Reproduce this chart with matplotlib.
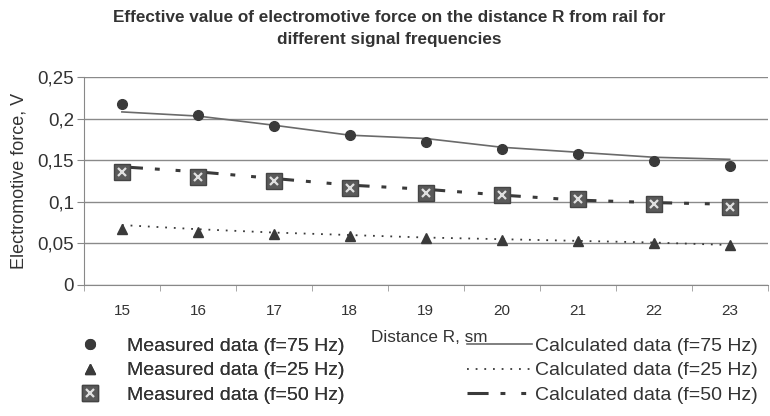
import numpy as np
import matplotlib.pyplot as plt
from matplotlib.ticker import FuncFormatter

distance = [15, 16, 17, 18, 19, 20, 21, 22, 23]

meas_75 = [0.2175, 0.204, 0.1915, 0.18, 0.1715, 0.163, 0.157, 0.149, 0.143]
calc_75 = [0.208, 0.203, 0.192, 0.180, 0.176, 0.1655, 0.1595, 0.1535, 0.151]

meas_25 = [0.067, 0.064, 0.061, 0.059, 0.056, 0.054, 0.053, 0.051, 0.048]
calc_25 = [0.072, 0.067, 0.063, 0.060, 0.057, 0.055, 0.053, 0.051, 0.048]

meas_50 = [0.136, 0.130, 0.125, 0.117, 0.111, 0.108, 0.103, 0.097, 0.094]
calc_50 = [0.142, 0.136, 0.128, 0.120, 0.115, 0.108, 0.102, 0.099, 0.097]

plt.rcParams['font.family'] = ['Liberation Sans', 'DejaVu Sans']
txt = '#333333'
dark = '#3a3a3a'

fig = plt.figure(figsize=(7.7, 4.16), dpi=100)
ax = fig.add_axes([0.109, 0.315, 0.888, 0.5])

x = np.arange(len(distance))

# calculated lines
l75, = ax.plot(x, calc_75, color='#6a6a6a', lw=1.2)
l25, = ax.plot(x, calc_25, color=dark, lw=1.3, linestyle=(0, (1, 3.8)))
l50, = ax.plot(x, calc_50, color=dark, lw=2.2, linestyle=(0, (6.9, 3.9, 1.6, 5.2, 1.6, 5.6)))

# measured points
m75, = ax.plot(x, meas_75, 'o', color=dark, ms=7, ls='none')
m25, = ax.plot(x, meas_25, '^', color=dark, ms=7, ls='none')
m50a, = ax.plot(x, meas_50, 's', color='#5a5a5a', mec='#444444', ms=11, ls='none')
m50b, = ax.plot(x, meas_50, 'x', color='#e0e0e0', ms=6, mew=1.6, ls='none')

ax.set_xlim(-0.5, len(distance) - 0.5)
ax.set_ylim(0, 0.25)
ax.set_yticks([0, 0.05, 0.1, 0.15, 0.2, 0.25])
ax.yaxis.set_major_formatter(FuncFormatter(lambda v, p: ('%g' % round(v, 2)).replace('.', ',')))
ax.set_xticks(x)
ax.set_xticklabels([str(d) for d in distance])
ax.set_xticks(np.arange(len(distance) + 1) - 0.5, minor=True)
ax.tick_params(axis='x', which='major', length=0, pad=14, labelsize=11, labelcolor=txt)
ax.tick_params(axis='x', which='minor', length=4, color='#999999', direction='out')
ax.tick_params(axis='y', length=5, color='#888888', labelsize=13.5, labelcolor=txt, pad=2)

ax.grid(axis='y', color='#8a8a8a', lw=1)
ax.set_axisbelow(True)
for s in ['top', 'right']:
    ax.spines[s].set_visible(False)
ax.spines['left'].set_color('#888888')
ax.spines['bottom'].set_color('#888888')

ax.set_ylabel('Electromotive force, V', fontsize=13, color=txt, labelpad=7)

fig.text(0.506, 0.958, 'Effective value of electromotive force on the distance R from rail for',
         ha='center', va='center', fontsize=12.3, fontweight='bold', color=txt)
fig.text(0.506, 0.905, 'different signal frequencies',
         ha='center', va='center', fontsize=12.3, fontweight='bold', color=txt)

fig.text(0.558, 0.188, 'Distance R, sm', ha='center', va='center', fontsize=12.3, color=txt)

leg1 = fig.legend([m75, m25, (m50a, m50b)],
                  ['Measured data (f=75 Hz)', 'Measured data (f=25 Hz)', 'Measured data (f=50 Hz)'],
                  loc='upper left', bbox_to_anchor=(0.091, 0.19), frameon=False,
                  fontsize=14, handlelength=2, handletextpad=0.93, labelspacing=0.37,
                  borderpad=0, borderaxespad=0, labelcolor=txt)
fig.add_artist(leg1)
fig.legend([l75, l25, l50],
           ['Calculated data (f=75 Hz)', 'Calculated data (f=25 Hz)', 'Calculated data (f=50 Hz)'],
           loc='upper left', bbox_to_anchor=(0.6065, 0.19), frameon=False,
           fontsize=14, handlelength=3.35, handletextpad=0.15, labelspacing=0.37,
           borderpad=0, borderaxespad=0, labelcolor=txt)

fig.savefig('out.png', dpi=100)
